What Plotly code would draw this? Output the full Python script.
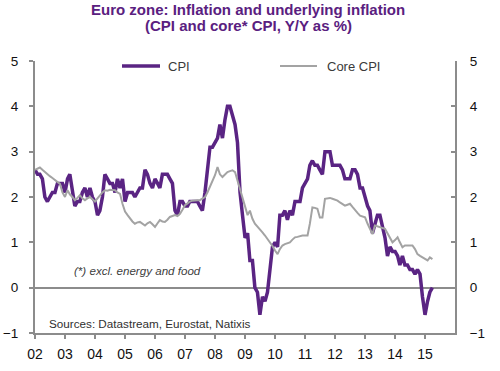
import pandas as pd
import plotly.graph_objects as go

# Monthly, Jan 2002 .. Apr 2015
months = pd.date_range("2002-01-01", periods=160, freq="MS")

cpi = [
    2.6, 2.5, 2.5, 2.4, 2.0, 1.9, 2.0, 2.1, 2.1, 2.3, 2.3, 2.3,
    2.1, 2.4, 2.5, 2.1, 1.8, 1.9, 1.9, 2.1, 2.2, 2.0, 2.2, 2.0,
    1.9, 1.6, 1.7, 2.0, 2.5, 2.4, 2.3, 2.3, 2.1, 2.4, 2.2, 2.4,
    1.9, 2.1, 2.1, 2.1, 2.0, 2.1, 2.2, 2.2, 2.6, 2.5, 2.3, 2.2,
    2.4, 2.3, 2.2, 2.5, 2.5, 2.5, 2.4, 2.3, 1.7, 1.6, 1.9, 1.9,
    1.8, 1.8, 1.9, 1.9, 1.9, 1.9, 1.8, 1.7, 2.1, 2.6, 3.1, 3.1,
    3.2, 3.3, 3.6, 3.3, 3.7, 4.0, 4.0, 3.8, 3.6, 3.2, 2.1, 1.6,
    1.1, 1.2, 0.6, 0.6, 0.0, -0.1, -0.6, -0.2, -0.3, -0.1, 0.5, 0.9,
    1.0, 0.9, 1.6, 1.6, 1.7, 1.5, 1.7, 1.6, 1.9, 1.9, 1.9, 2.2,
    2.3, 2.4, 2.7, 2.8, 2.7, 2.7, 2.6, 2.5, 3.0, 3.0, 3.0, 2.7,
    2.7, 2.7, 2.7, 2.6, 2.4, 2.4, 2.4, 2.6, 2.6, 2.5, 2.2, 2.2,
    2.0, 1.8, 1.7, 1.2, 1.4, 1.6, 1.6, 1.3, 1.1, 0.7, 0.9, 0.8,
    0.8, 0.7, 0.5, 0.7, 0.5, 0.5, 0.4, 0.4, 0.3, 0.4, 0.3, -0.2,
    -0.6, -0.3, -0.1, 0.0,
]

core_cpi = [
    2.60, 2.62, 2.65, 2.60, 2.55, 2.50, 2.46, 2.42, 2.37, 2.32, 2.29, 2.10,
    2.00, 2.15, 2.06, 2.00, 1.93, 1.98, 2.04, 1.97, 1.93, 1.97, 2.00, 1.95,
    1.90, 1.97, 2.04, 2.10, 2.15, 2.14, 2.16, 2.15, 2.15, 2.10, 2.07, 1.85,
    1.68, 1.60, 1.52, 1.46, 1.41, 1.44, 1.45, 1.40, 1.37, 1.42, 1.45, 1.40,
    1.34, 1.42, 1.49, 1.46, 1.45, 1.50, 1.56, 1.58, 1.60, 1.58, 1.63, 1.72,
    1.82, 1.86, 1.90, 1.92, 1.93, 1.93, 1.93, 1.96, 2.00, 2.10, 2.22, 2.35,
    2.48, 2.66, 2.50, 2.44, 2.50, 2.55, 2.57, 2.59, 2.55, 2.37, 2.14, 1.95,
    1.77, 1.60, 1.70, 1.52, 1.41, 1.35, 1.30, 1.22, 1.15, 1.08, 1.00, 0.92,
    0.82, 0.74, 0.85, 0.93, 0.96, 0.98, 1.00, 1.06, 1.11, 1.12, 1.14, 1.15,
    1.15, 1.15, 1.41, 1.77, 1.76, 1.74, 1.55, 1.55, 1.96, 1.97, 1.98, 1.96,
    1.94, 1.92, 1.88, 1.85, 1.81, 1.83, 1.85, 1.78, 1.70, 1.65, 1.59, 1.57,
    1.55, 1.41, 1.30, 1.18, 1.37, 1.35, 1.33, 1.32, 1.30, 1.20, 1.11, 1.00,
    1.05, 1.11, 1.00, 0.89, 0.93, 0.93, 0.92, 0.93, 0.85, 0.74, 0.70, 0.67,
    0.63, 0.60, 0.67, 0.63,
]

year_ticks = [f"{y}-01-01" for y in range(2002, 2016)]
year_labels = ["02", "03", "04", "05", "06", "07", "08", "09", "10", "11", "12", "13", "14", "15"]
y_ticks = [-1, 0, 1, 2, 3, 4, 5]

PURPLE = "#5a2483"
GREY = "#a3a3a3"
AXIS = "#8c8c8c"
FONT = "Liberation Sans, Arial, sans-serif"

fig = go.Figure()
fig.add_trace(go.Scatter(x=months, y=cpi, mode="lines", name="CPI",
                         line=dict(color=PURPLE, width=3.5), yaxis="y"))
fig.add_trace(go.Scatter(x=months, y=core_cpi, mode="lines", name="Core CPI",
                         line=dict(color=GREY, width=2), yaxis="y2"))

# plot area: x 35..455 px, y 61..333 px
def px_x(p):
    return (p - 35) / 420.0

def px_y(p):
    return (333 - p) / 272.0

shapes = [
    dict(type="line", xref="paper", yref="paper", x0=px_x(122), x1=px_x(160),
         y0=px_y(66), y1=px_y(66), line=dict(color=PURPLE, width=3.5)),
    dict(type="line", xref="paper", yref="paper", x0=px_x(280), x1=px_x(317),
         y0=px_y(66), y1=px_y(66), line=dict(color=GREY, width=2)),
]

TITLE_FONT = dict(family=FONT, size=15, color="#5a2080")
annotations = [
    dict(text="<b>Euro zone: Inflation and underlying inflation</b>",
         xref="paper", yref="paper", x=px_x(248), y=px_y(9), xanchor="center", yanchor="middle",
         showarrow=False, font=TITLE_FONT),
    dict(text="<b>(CPI and core* CPI, Y/Y as %)</b>",
         xref="paper", yref="paper", x=px_x(248), y=px_y(25.5), xanchor="center", yanchor="middle",
         showarrow=False, font=TITLE_FONT),
    dict(text="CPI", xref="paper", yref="paper", x=px_x(166), y=px_y(66),
         xanchor="left", yanchor="middle", showarrow=False,
         font=dict(family=FONT, size=13, color="#3a3a3a")),
    dict(text="Core CPI", xref="paper", yref="paper", x=px_x(325), y=px_y(66),
         xanchor="left", yanchor="middle", showarrow=False,
         font=dict(family=FONT, size=13, color="#3a3a3a")),
    dict(text="<i>(*) excl. energy and food</i>", xref="paper", yref="paper",
         x=px_x(72), y=px_y(270), xanchor="left", yanchor="middle", showarrow=False,
         font=dict(family=FONT, size=11.6, color="#404040")),
    dict(text="Sources: Datastream, Eurostat, Natixis", xref="paper", yref="paper",
         x=px_x(47), y=px_y(323), xanchor="left", yanchor="middle", showarrow=False,
         font=dict(family=FONT, size=11.7, color="#303030")),
]

fig.update_layout(
    width=500, height=371,
    margin=dict(l=35, r=45, t=61, b=38, autoexpand=False),
    paper_bgcolor="white", plot_bgcolor="white",
    showlegend=False,
    font=dict(family=FONT, color="#111111"),
    xaxis=dict(
        type="date", range=["2002-01-01", "2016-01-01"],
        tickvals=year_ticks, ticktext=year_labels,
        ticks="outside", ticklen=4, tickwidth=1.5, tickcolor=AXIS,
        showline=True, linecolor=AXIS, linewidth=2,
        showgrid=False, zeroline=False, automargin=False,
        tickfont=dict(family=FONT, size=14, color="#111111"),
        ticklabelstandoff=3,
    ),
    yaxis=dict(
        range=[-1, 5], tickvals=y_ticks,
        ticks="outside", ticklen=4, tickwidth=1.5, tickcolor=AXIS,
        showline=True, linecolor=AXIS, linewidth=2,
        showgrid=False, zeroline=True, zerolinecolor=AXIS, zerolinewidth=1.5,
        automargin=False,
        tickfont=dict(family=FONT, size=13.5, color="#111111"),
        ticklabelstandoff=8,
    ),
    yaxis2=dict(
        range=[-1, 5], tickvals=y_ticks, overlaying="y", side="right",
        ticks="inside", ticklen=4, tickwidth=1.5, tickcolor=AXIS,
        showline=True, linecolor=AXIS, linewidth=2,
        showgrid=False, zeroline=False, automargin=False,
        tickfont=dict(family=FONT, size=13.5, color="#111111"),
        ticklabelstandoff=10,
    ),
    shapes=shapes,
    annotations=annotations,
)

fig.write_html("out.html", config={"displayModeBar": False},
               post_script="document.body.style.margin='0';")
